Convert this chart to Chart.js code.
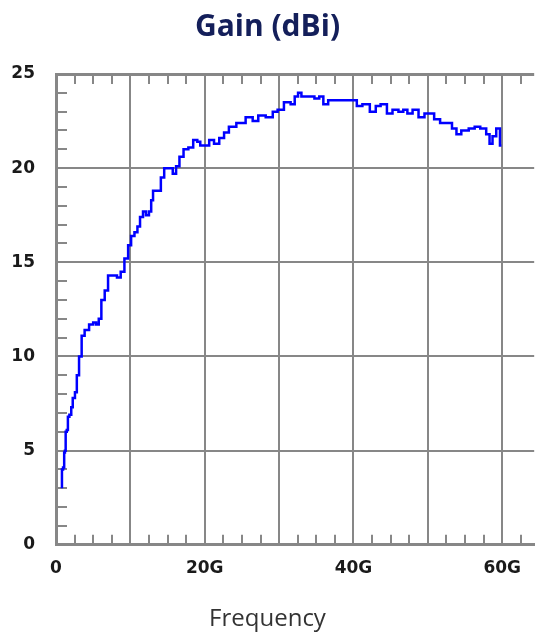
<!DOCTYPE html>
<html>
<head>
<meta charset="utf-8">
<script src="https://cdn.jsdelivr.net/npm/chart.js@4"></script>
<style>
  body { margin: 0; background: #fff; }
  #wrap { width: 535px; height: 638px; position: relative; }
</style>
</head>
<body>
<div id="wrap"><canvas id="myChart"></canvas></div>
<script>
// frequency in GHz, gain in dBi
const freqGHz = [
  0.8, 0.8, 1.1, 1.1, 1.3, 1.3, 1.6, 1.6, 2.0, 2.1, 2.4, 2.7, 2.9,
  3.3, 3.6, 4.1, 4.8, 5.2, 5.6, 5.9, 6.3, 6.8, 7.2, 7.9, 8.5, 8.9,
  9.5, 9.9, 10.3, 10.8, 11.1, 11.5, 11.9, 12.3, 12.7, 12.9, 13.2, 13.9,
  14.3, 14.8, 15.5, 15.9, 16.4, 16.8, 17.5, 18.1, 18.8, 19.2, 19.6, 20.3,
  20.9, 21.6, 22.3, 22.9, 23.6, 24.9, 26.1, 26.8, 27.6, 28.8, 29.5, 30.1,
  31.2, 31.9, 32.3, 32.8, 33.2, 34.3, 35.2, 35.6, 36.3, 36.9, 38.8, 40.1,
  40.8, 41.6, 42.8, 43.2, 44.1, 44.9, 45.6, 46.5, 46.9, 47.6, 48.3, 49.2,
  49.9, 50.5, 51.2, 52.1, 52.9, 53.6, 54.1, 54.9, 56.1, 56.5, 57.6, 58.1,
  58.5, 58.9, 59.5, 59.9
];
const gainDbi = [
  3.0, 4.0, 4.1, 4.9, 5.0, 6.0, 6.1, 6.8, 6.9, 7.3, 7.8, 8.1, 9.0,
  10.0, 11.1, 11.4, 11.7, 11.8, 11.7, 12.0, 13.0, 13.5, 14.3, 14.3, 14.2, 14.5,
  15.2, 15.9, 16.4, 16.6, 16.9, 17.4, 17.7, 17.5, 17.7, 18.3, 18.8, 18.8,
  19.5, 20.0, 20.0, 19.7, 20.1, 20.6, 21.0, 21.1, 21.5, 21.4, 21.2, 21.2,
  21.5, 21.3, 21.6, 21.9, 22.2, 22.4, 22.7, 22.5, 22.8, 22.7, 23.0, 23.1,
  23.5, 23.4, 23.8, 24.0, 23.8, 23.8, 23.7, 23.8, 23.4, 23.6, 23.6, 23.6,
  23.3, 23.4, 23.0, 23.3, 23.4, 22.9, 23.1, 23.0, 23.1, 22.9, 23.1, 22.7,
  22.9, 22.9, 22.6, 22.4, 22.4, 22.1, 21.8, 22.0, 22.1, 22.2, 22.1, 21.8,
  21.3, 21.7, 22.1, 21.2
];

const yTicks = [0, 5, 10, 15, 20, 25];
const xLabels = { 0: "0", 20: "20G", 40: "40G", 60: "60G" };

const gridGrey = "#878787";

// small inner tick marks between grid lines
const minorTicks = {
  id: "minorTicks",
  beforeDatasetsDraw(chart) {
    const ctx = chart.ctx;
    const area = chart.chartArea;
    const xs = chart.scales.x;
    const ys = chart.scales.y;
    ctx.save();
    ctx.strokeStyle = gridGrey;
    ctx.lineWidth = 2;
    ctx.beginPath();
    for (let v = 1; v < 25; v++) {
      if (v % 5 == 0) continue;
      const y = Math.round(ys.getPixelForValue(v));
      ctx.moveTo(area.left, y);
      ctx.lineTo(area.left + 11, y);
    }
    for (let v = 2.5; v < xs.max; v += 2.5) {
      if (v % 10 == 0) continue;
      const x = Math.round(xs.getPixelForValue(v));
      ctx.moveTo(x, area.bottom);
      ctx.lineTo(x, area.bottom - 10);
      ctx.moveTo(x, area.top);
      ctx.lineTo(x, area.top + 10);
    }
    ctx.stroke();
    ctx.restore();
  }
};

const points = freqGHz.map((f, i) => ({ x: f, y: gainDbi[i] }));

const config = {
  type: "line",
  data: {
    datasets: [{
      label: "Gain",
      data: points,
      borderColor: "#0000ff",
      borderWidth: 2.5,
      pointRadius: 0,
      stepped: "middle",
      fill: false,
    }],
  },
  options: {
    responsive: true,
    maintainAspectRatio: false,
    animation: false,
    layout: { padding: 0 },
    plugins: {
      legend: { display: false },
      tooltip: { enabled: false },
      title: {
        display: true,
        text: "Gain (dBi)",
        color: "#141f5a",
        font: { family: "'Open Sans'", size: 30, weight: "bold" },
        padding: { top: 9, bottom: 29 },
      },
      subtitle: {
        display: true,
        position: "bottom",
        text: "Frequency",
        color: "#333333",
        font: { family: "'Open Sans'", size: 24, weight: "normal" },
        padding: { top: 12, bottom: 4 },
      },
    },
    scales: {
      x: {
        type: "linear",
        min: 0,
        max: 64.3,
        afterBuildTicks: (scale) => {
          scale.ticks = [0, 10, 20, 30, 40, 50, 60].map(v => ({ value: v }));
        },
        ticks: {
          autoSkip: false,
          maxRotation: 0,
          padding: 14,
          color: "#1a1a1a",
          font: { family: "'DejaVu Sans'", size: 17, weight: "bold" },
          callback: (v) => (xLabels[v] !== undefined ? xLabels[v] : ""),
        },
        grid: { color: gridGrey, lineWidth: 2, drawTicks: false },
        border: { display: true, color: gridGrey, width: 3 },
      },
      y: {
        min: 0,
        max: 25,
        afterBuildTicks: (scale) => {
          scale.ticks = yTicks.map(v => ({ value: v }));
        },
        afterFit: (scale) => { scale.width = 56; },
        ticks: {
          padding: 21,
          color: "#1a1a1a",
          font: { family: "'DejaVu Sans'", size: 17, weight: "bold" },
        },
        grid: {
          color: gridGrey,
          lineWidth: (c) => (c.tick && c.tick.value == 25 ? 3 : 2),
          drawTicks: false,
        },
        border: { display: true, color: gridGrey, width: 3 },
      },
    },
  },
  plugins: [minorTicks],
};

new Chart(document.getElementById("myChart").getContext("2d"), config);
</script>
</body>
</html>
